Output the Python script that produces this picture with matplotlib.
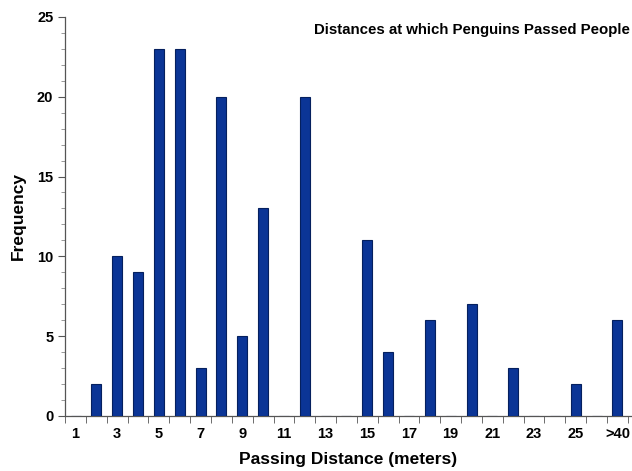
import matplotlib.pyplot as plt
import numpy as np

categories = [str(i) for i in range(1, 27)] + [">40"]
counts = [0, 2, 10, 9, 23, 23, 3, 20, 5, 13, 0, 20, 0, 0, 11, 4, 0, 6, 0, 7, 0, 3, 0, 0, 2, 0, 6]
tick_labels = [str(i) for i in range(1, 26, 2)] + [">40"]

plt.rcParams['font.family'] = ['Liberation Sans', 'DejaVu Sans']

fig = plt.figure(figsize=(6.32, 4.71), dpi=100)
ax = fig.add_axes([0.103, 0.117, 0.897, 0.847])

x = np.arange(len(categories))
ax.bar(x, counts, width=0.48, color="#0b3596", edgecolor="#05205e", linewidth=0.8, zorder=3)

ax.set_xlim(-0.5, 26.7)
ax.set_ylim(0, 25)

ax.set_xticks(x[::2])
ax.set_xticklabels(tick_labels, fontsize=10.5, fontweight="bold")
ax.set_xticks(np.arange(-0.5, 27, 1), minor=True)
ax.tick_params(axis="x", which="major", length=0, pad=8)
ax.tick_params(axis="x", which="minor", length=5, direction="out", color="#555555")

ax.set_yticks(range(0, 26, 5))
ax.set_yticks(range(0, 26), minor=True)
ax.set_yticklabels([str(v) for v in range(0, 26, 5)], fontsize=10.5, fontweight="bold")
ax.tick_params(axis="y", which="major", length=5, color="#555555")
ax.tick_params(axis="y", which="minor", length=3, color="#888888")

for side in ["top", "right"]:
    ax.spines[side].set_visible(False)
for side in ["left", "bottom"]:
    ax.spines[side].set_color("#555555")
    ax.spines[side].set_linewidth(0.9)

ax.set_xlabel("Passing Distance (meters)", fontsize=12.5, fontweight="bold", labelpad=8)
ax.set_ylabel("Frequency", fontsize=12.5, fontweight="bold", labelpad=8)
ax.text(0.997, 0.985, "Distances at which Penguins Passed People", transform=ax.transAxes,
        ha="right", va="top", fontsize=10.8, fontweight="bold")

fig.savefig("out.png", dpi=100)
